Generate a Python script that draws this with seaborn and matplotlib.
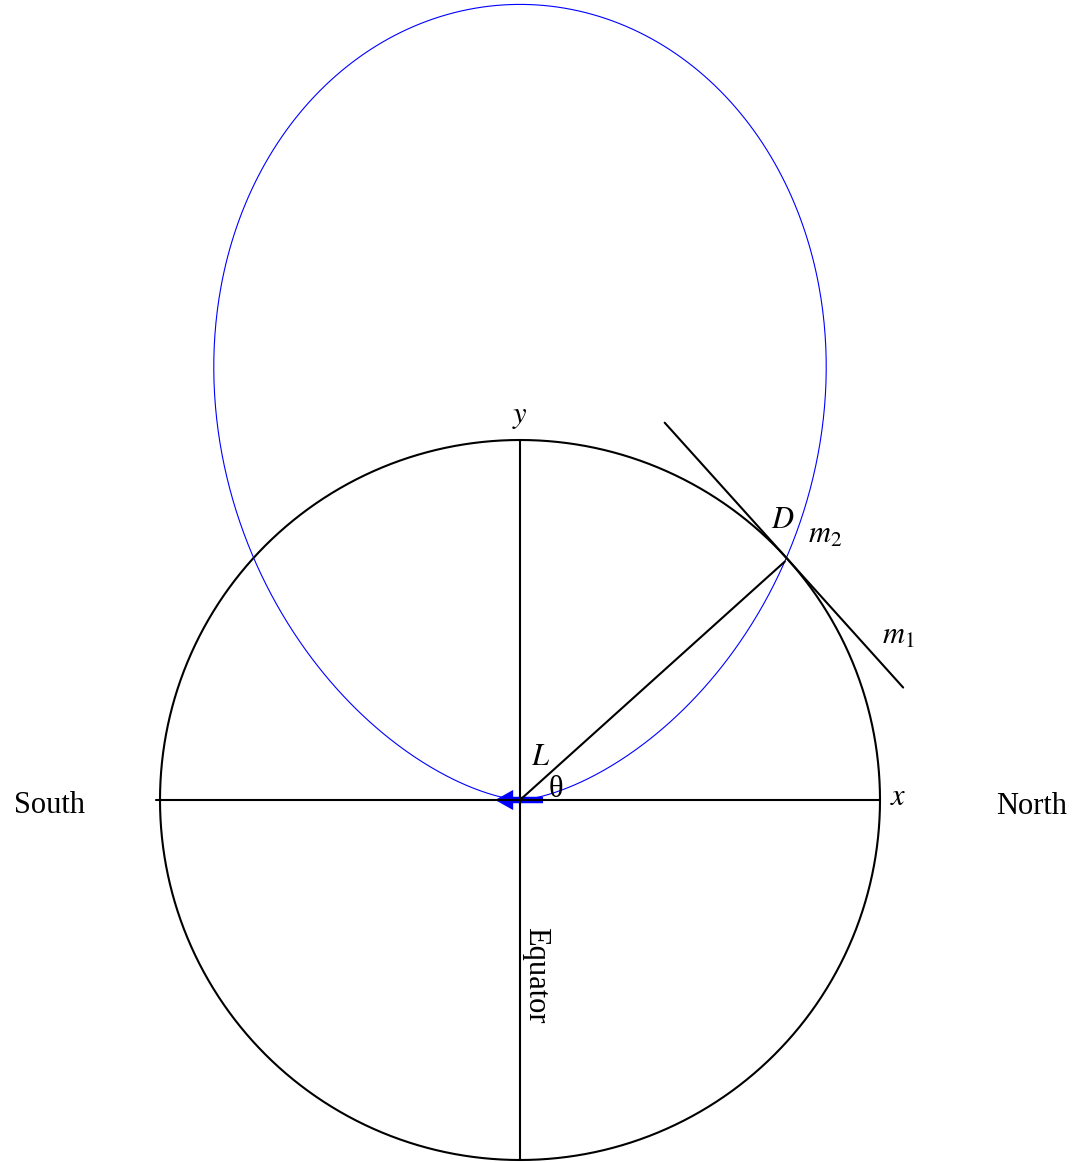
import numpy as np
import pandas as pd
import matplotlib
matplotlib.use("Agg")
import matplotlib.pyplot as plt
import seaborn as sns

# --- diagram parameters (units: earth radius = 1) ---
earth_radius = 1.0
lobe_scale = 2.21          # r = lobe_scale * sin^2(angle) for the blue pattern
theta_deg = 42.0           # latitude angle of point D
tangent_back = 0.51        # tangent line extent before D
tangent_fwd = 0.48         # tangent line extent after D

sns.set_style("white")
plt.rcParams['font.family'] = ['Liberation Serif', 'DejaVu Serif']
plt.rcParams['mathtext.fontset'] = 'stix'
plt.rcParams['text.color'] = 'black'

fig = plt.figure(figsize=(10.85, 11.63), dpi=100)
ax = fig.add_axes([0, 0, 1, 1])

# earth circle
phi = np.linspace(0, 2 * np.pi, 721)
circle = pd.DataFrame({'x': earth_radius * np.cos(phi), 'y': earth_radius * np.sin(phi)})
sns.lineplot(data=circle, x='x', y='y', sort=False, color='black', lw=1.5, ax=ax, estimator=None)

# blue sin^2 pattern
a = np.linspace(0, np.pi, 721)
r = lobe_scale * np.sin(a) ** 2
lobe = pd.DataFrame({'x': r * np.cos(a), 'y': r * np.sin(a)})
sns.lineplot(data=lobe, x='x', y='y', sort=False, color='blue', lw=0.8, ax=ax, estimator=None)

# axes through the centre
ax.plot([-1.01, 1.0], [0, 0], color='black', lw=1.5)
ax.plot([0, 0], [-1.0, 1.0], color='black', lw=1.5)

# radius to D and tangent line
t = np.radians(theta_deg)
D = np.array([np.cos(t), np.sin(t)]) * earth_radius
ax.plot([0, D[0] * 0.99], [0, D[1] * 0.99], color='black', lw=1.5)
tdir = np.array([np.sin(t), -np.cos(t)])
p0 = D - tangent_back * tdir
p1 = D + tangent_fwd * tdir
ax.plot([p0[0], p1[0]], [p0[1], p1[1]], color='black', lw=1.5)

# blue arrow at the origin
ax.arrow(0.064, 0, -0.133, 0, width=0.018, head_width=0.056, head_length=0.05,
         length_includes_head=True, color='blue', lw=0)

fs = 22
ax.text(0, 1.064, '$y$', fontsize=fs, ha='center', va='center')
ax.text(1.05, 0.008, '$x$', fontsize=fs, ha='center', va='center')
ax.text(-1.306, -0.014, 'South', fontsize=fs, ha='center', va='center')
ax.text(1.422, -0.019, 'North', fontsize=fs, ha='center', va='center')
ax.text(0.042, -0.486, 'Equator', fontsize=fs, ha='center', va='center', rotation=270)
ax.text(0.058, 0.119, '$L$', fontsize=fs, ha='center', va='center')
ax.text(0.1, 0.028, 'θ', fontsize=fs, ha='center', va='center')
ax.text(0.731, 0.775, '$D$', fontsize=fs, ha='center', va='center')
ax.text(0.847, 0.736, '$m_2$', fontsize=fs, ha='center', va='center')
ax.text(1.05, 0.456, '$m_1$', fontsize=fs, ha='center', va='center')

ax.set_xlim(-520 / 360, (1085 - 520) / 360)
ax.set_ylim(-(1163 - 800) / 360, 800 / 360)
ax.set_axis_off()

plt.savefig('out.png', dpi=100)
plt.close()
